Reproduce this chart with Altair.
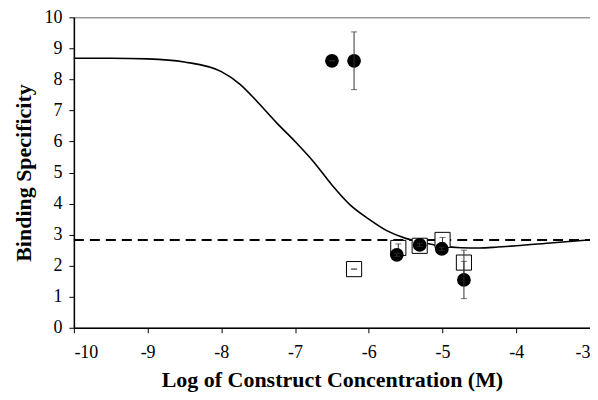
import altair as alt
import pandas as pd

# fitted curve
curve_x = [-10, -9.5, -9, -8.5, -8, -7.75, -7.5, -7.25, -7, -6.75, -6.5, -6.25, -6,
           -5.75, -5.5, -5.25, -5, -4.75, -4.5, -4.25, -4, -3.5, -3]
curve_y = [8.68, 8.68, 8.66, 8.56, 8.25, 7.85, 7.25, 6.6, 6.0, 5.35, 4.6, 3.95, 3.5,
           3.12, 2.88, 2.74, 2.63, 2.58, 2.57, 2.6, 2.64, 2.74, 2.83]

# filled circles
circ_x = [-6.5, -6.2, -5.62, -5.31, -5.01, -4.71]
circ_y = [8.6, 8.6, 2.35, 2.67, 2.54, 1.54]
circ_err = [0.0, 0.93, 0.05, 0.05, 0.05, 0.6]

# open squares
sq_x = [-6.2, -5.6, -5.31, -5.0, -4.71]
sq_y = [1.89, 2.57, 2.64, 2.83, 2.1]
sq_err = [0.005, 0.13, 0.1, 0.08, 0.4]

baseline = 2.83

FONT = "Liberation Serif"

curve_df = pd.DataFrame({"x": curve_x, "y": curve_y})
circ_df = pd.DataFrame({"x": circ_x, "y": circ_y, "lo": [y - e for y, e in zip(circ_y, circ_err)],
                        "hi": [y + e for y, e in zip(circ_y, circ_err)]})
sq_df = pd.DataFrame({"x": sq_x, "y": sq_y, "lo": [y - e for y, e in zip(sq_y, sq_err)],
                      "hi": [y + e for y, e in zip(sq_y, sq_err)]})
base_df = pd.DataFrame({"x": [-10, -3], "y": [baseline, baseline]})

xscale = alt.Scale(domain=[-10, -3], nice=False, zero=False)
yscale = alt.Scale(domain=[0, 10], nice=False)

xaxis = alt.Axis(values=list(range(-10, -2)), title="Log of Construct Concentration (M)",
                 grid=False, tickSize=5, labelPadding=11, titlePadding=8,
                 labelExpr="'' + datum.value")
yaxis = alt.Axis(values=list(range(0, 11)), title="Binding Specificity",
                 grid=False, tickSize=5, labelPadding=7, titlePadding=8)

X = alt.X("x:Q", scale=xscale, axis=xaxis)
Y = alt.Y("y:Q", scale=yscale, axis=yaxis)

curve = alt.Chart(curve_df).mark_line(color="black", strokeWidth=1.6, interpolate="monotone").encode(x=X, y=Y)
dash = alt.Chart(base_df).mark_line(color="black", strokeWidth=2, strokeDash=[10, 6]).encode(x=X, y=Y)

squares = alt.Chart(sq_df).mark_point(shape="square", size=230, filled=True, fill="white",
                                      stroke="black", strokeWidth=1, opacity=1).encode(x=X, y=Y)
sq_bars = alt.Chart(sq_df).mark_errorbar(ticks=alt.TickConfig(size=6, color="#333", thickness=1),
                                         rule=alt.LineConfig(color="#333", strokeWidth=1)).encode(
    x=X, y=alt.Y("lo:Q", scale=yscale, axis=yaxis), y2="hi:Q")

circles = alt.Chart(circ_df).mark_circle(size=190, color="black", opacity=1).encode(x=X, y=Y)
circ_bars = alt.Chart(circ_df).mark_errorbar(ticks=alt.TickConfig(size=6, color="#333", thickness=1),
                                             rule=alt.LineConfig(color="#333", strokeWidth=1)).encode(
    x=X, y=alt.Y("lo:Q", scale=yscale, axis=yaxis), y2="hi:Q")

chart = alt.layer(curve, dash, squares, sq_bars, circles, circ_bars).properties(
    width=517, height=311,
    autosize=alt.AutoSizeParams(type="none"),
    padding={"left": 66, "top": 9, "right": 0, "bottom": 64},
).configure_view(stroke="#666", strokeWidth=1).configure_axis(
    labelFont=FONT, labelFontSize=18, labelColor="black",
    titleFont=FONT, titleFontSize=22, titleFontWeight="bold", titleColor="black",
    domainColor="black", domainWidth=1.5, tickColor="black", tickWidth=1,
)

chart.save("out.html", embed_options={"renderer": "svg", "actions": False})
